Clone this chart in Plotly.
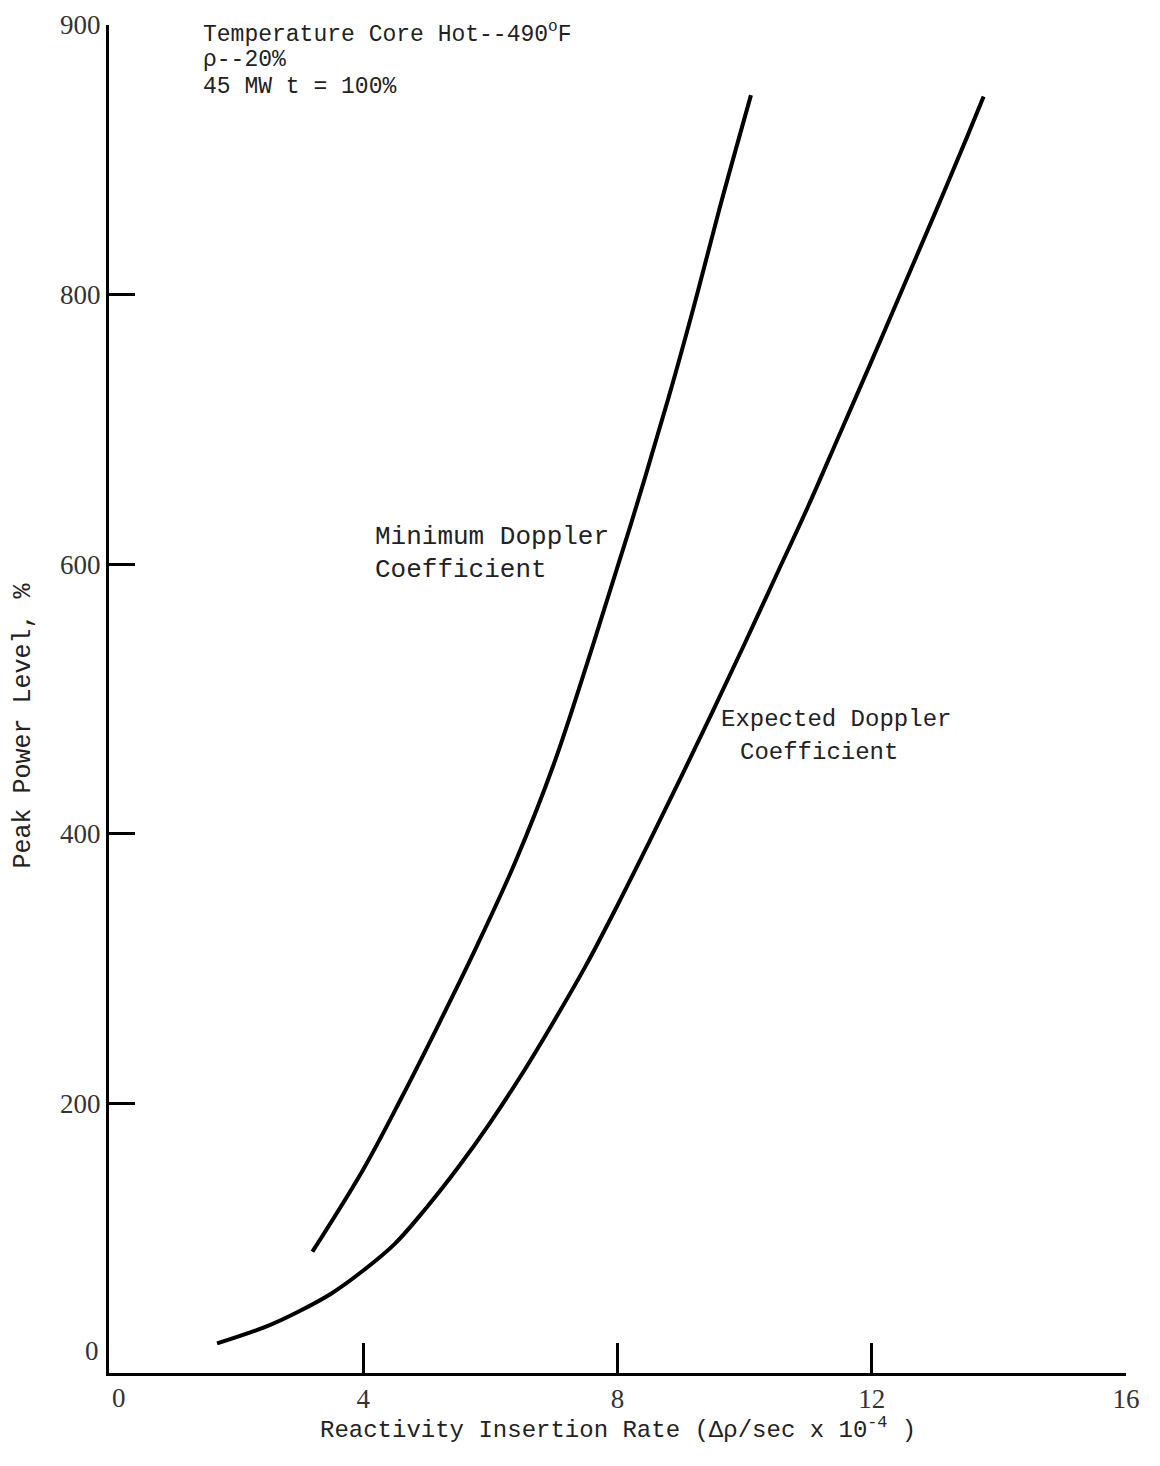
import plotly.graph_objects as go

# Data
min_x = [3.2, 4.0, 4.6, 5.2, 5.8, 6.4, 7.0, 7.6, 8.2, 8.8, 9.2, 9.6, 10.1]
min_y = [90, 151, 204, 260, 318, 380, 452, 538, 628, 723, 791, 863, 948]

exp_x = [1.7, 2.5, 3.0, 3.5, 4.0, 4.5, 5.0, 5.5, 6.0, 6.5, 7.0, 7.5, 8.0, 8.5, 9.0,
         9.5, 10.0, 10.5, 11.0, 11.5, 12.0, 12.5, 13.0, 13.5, 13.76]
exp_y = [22, 35, 46, 59, 76, 96, 123, 153, 186, 222, 261, 302, 347, 394, 442,
         491, 541, 592, 643, 697, 751, 806, 861, 917, 947]

x_tickvals = [4, 8, 12, 16]
x_ticktext = ["4", "8", "12", "16"]
y_tickvals = [200, 400, 600, 800, 1000]
y_ticktext = ["200", "400", "600", "800", "900"]

mono = "Liberation Mono"
serif = "Liberation Serif"

fig = go.Figure()
fig.add_trace(go.Scatter(x=min_x, y=min_y, mode="lines",
                         line=dict(color="black", width=4, shape="spline"),
                         showlegend=False, hoverinfo="skip"))
fig.add_trace(go.Scatter(x=exp_x, y=exp_y, mode="lines",
                         line=dict(color="black", width=4, shape="spline"),
                         showlegend=False, hoverinfo="skip"))

anns = [
    dict(x=1.45, y=994, text="Temperature Core Hot--490<sup>o</sup>F", size=23),
    dict(x=1.45, y=974, text="ρ--20%", size=23),
    dict(x=1.45, y=954, text="45 MW t = 100%", size=23),
    dict(x=4.15, y=620, text="Minimum Doppler", size=26),
    dict(x=4.15, y=596, text="Coefficient", size=26),
    dict(x=9.59, y=485, text="Expected Doppler", size=24),
    dict(x=9.89, y=460, text="Coefficient", size=24),
]
for a in anns:
    fig.add_annotation(x=a["x"], y=a["y"], xref="x", yref="y", text=a["text"],
                       showarrow=False, xanchor="left", yanchor="middle",
                       font=dict(family=mono, size=a["size"], color="#222"))

# zero labels
fig.add_annotation(x=0, y=16, xref="x", yref="y", text="0", showarrow=False,
                   xanchor="right", xshift=-8, yanchor="middle",
                   font=dict(family=serif, size=27, color="#333"))
fig.add_annotation(x=0, y=0, xref="x", yref="y", text="0", showarrow=False,
                   xanchor="center", xshift=10, yanchor="top", yshift=-8,
                   font=dict(family=serif, size=27, color="#333"))

# axis titles
fig.add_annotation(x=-0.084, y=0.48, xref="paper", yref="paper",
                   text="Peak Power Level, %", textangle=-90, showarrow=False,
                   xanchor="center", yanchor="middle",
                   font=dict(family=mono, size=25, color="#222"))
fig.add_annotation(x=0.5, y=-0.028, xref="paper", yref="paper",
                   text="Reactivity Insertion Rate (Δρ/sec x 10<sup>-4</sup> )",
                   showarrow=False, xanchor="center", yanchor="top",
                   font=dict(family=mono, size=24, color="#222"))

fig.update_xaxes(range=[0, 16], tickvals=x_tickvals, ticktext=x_ticktext,
                 ticks="inside", ticklen=30, tickwidth=3, tickcolor="black",
                 showline=True, linewidth=3, linecolor="black", showgrid=False,
                 zeroline=False, ticklabeloverflow="allow",
                 tickfont=dict(family=serif, size=27, color="#333"))
fig.update_yaxes(range=[0, 1000], tickvals=y_tickvals, ticktext=y_ticktext,
                 ticks="inside", ticklen=26, tickwidth=3, tickcolor="black",
                 showline=True, linewidth=3, linecolor="black", showgrid=False,
                 zeroline=False, ticklabeloverflow="allow",
                 tickfont=dict(family=serif, size=27, color="#333"))

fig.update_layout(width=1160, height=1466, plot_bgcolor="white", paper_bgcolor="white",
                  margin=dict(l=101, r=42, t=17, b=101, autoexpand=False))

fig.write_html("out.html")
